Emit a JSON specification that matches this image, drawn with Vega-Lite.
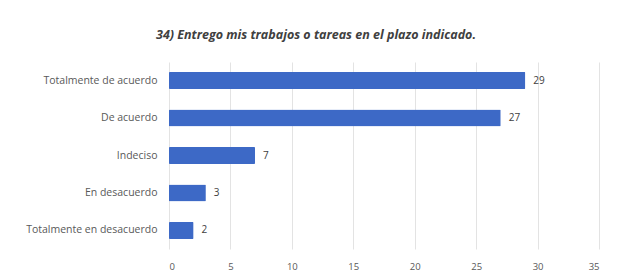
{
  "$schema": "https://vega.github.io/schema/vega-lite/v6.json",
  "width": 430,
  "height": 187,
  "autosize": {"type": "none"},
  "padding": {"left": 169, "top": 62, "right": 23, "bottom": 24},
  "background": "white",
  "title": {
    "text": "34) Entrego mis trabajos o tareas en el plazo indicado.",
    "font": "Open Sans",
    "fontSize": 12.5,
    "fontWeight": "bold",
    "fontStyle": "italic",
    "color": "#404040",
    "anchor": "middle",
    "dx": -68,
    "offset": 21
  },
  "data": {
    "values": [
      {"respuesta": "Totalmente de acuerdo", "n": 29},
      {"respuesta": "De acuerdo", "n": 27},
      {"respuesta": "Indeciso", "n": 7},
      {"respuesta": "En desacuerdo", "n": 3},
      {"respuesta": "Totalmente en desacuerdo", "n": 2}
    ]
  },
  "encoding": {
    "y": {
      "field": "respuesta",
      "type": "nominal",
      "sort": null,
      "title": null,
      "scale": {"paddingInner": 0.55, "paddingOuter": 0.27},
      "axis": {
        "domain": false,
        "ticks": false,
        "labelPadding": 12,
        "labelFont": "Open Sans",
        "labelFontSize": 10.5,
        "labelColor": "#595959"
      }
    },
    "x": {
      "field": "n",
      "type": "quantitative",
      "title": null,
      "scale": {"domain": [0, 35]},
      "axis": {
        "values": [0, 5, 10, 15, 20, 25, 30, 35],
        "domain": false,
        "ticks": false,
        "grid": true,
        "gridColor": "#e3e3e3",
        "labelPadding": 12,
        "labelFont": "Open Sans",
        "labelFontSize": 9.5,
        "labelColor": "#595959"
      }
    }
  },
  "layer": [
    {"mark": {"type": "bar", "color": "#3d69c6", "cornerRadius": 1}},
    {
      "mark": {"type": "text", "align": "left", "dx": 8, "font": "Open Sans", "fontSize": 10, "color": "#404040"},
      "encoding": {"text": {"field": "n", "type": "quantitative"}}
    }
  ],
  "config": {"view": {"stroke": null}}
}
